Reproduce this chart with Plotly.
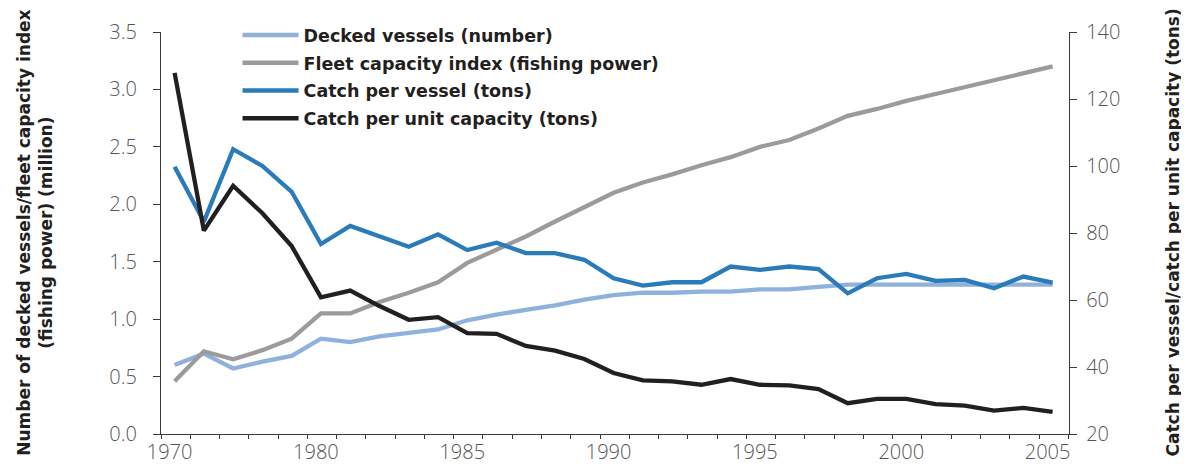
import plotly.graph_objects as go

years = list(range(1975, 2006))
tick_years = [1975, 1980, 1985, 1990, 1995, 2000, 2005]
tick_labels = ["1970", "1980", "1985", "1990", "1995", "2000", "2005"]

decked_vessels = [0.60, 0.70, 0.57, 0.63, 0.68, 0.83, 0.80, 0.85, 0.88, 0.91,
                  0.99, 1.04, 1.08, 1.12, 1.17, 1.21, 1.23, 1.23, 1.24, 1.24,
                  1.26, 1.26, 1.28, 1.30, 1.30, 1.30, 1.30, 1.30, 1.30, 1.30, 1.30]
fleet_capacity = [0.46, 0.72, 0.65, 0.73, 0.83, 1.05, 1.05, 1.15, 1.23, 1.32,
                  1.49, 1.60, 1.72, 1.85, 1.97, 2.10, 2.19, 2.26, 2.34, 2.41,
                  2.50, 2.56, 2.66, 2.77, 2.83, 2.90, 2.96, 3.02, 3.08, 3.14, 3.20]
catch_per_vessel = [99.8, 83.4, 105.0, 100.0, 92.3, 76.7, 82.1, 78.9, 75.9, 79.6,
                    74.9, 77.1, 74.0, 74.0, 72.0, 66.5, 64.3, 65.3, 65.3, 70.0,
                    69.0, 70.0, 69.2, 62.0, 66.5, 67.8, 65.7, 66.0, 63.5, 67.0, 65.2]
catch_per_capacity = [127.8, 80.7, 94.1, 85.9, 76.1, 60.8, 62.8, 58.2, 54.1, 54.9,
                      50.1, 49.9, 46.3, 44.9, 42.4, 38.2, 36.0, 35.7, 34.7, 36.4,
                      34.7, 34.5, 33.4, 29.2, 30.5, 30.5, 28.9, 28.5, 27.0, 27.8, 26.6]

series_names = ["Decked vessels (number)", "Fleet capacity index (fishing power)",
                "Catch per vessel (tons)", "Catch per unit capacity (tons)"]
colors = ["#8fb1dc", "#9b9b9d", "#2a7bb9", "#231f20"]
series_values = [decked_vessels, fleet_capacity, catch_per_vessel, catch_per_capacity]
series_axes = ["y", "y", "y2", "y2"]

fig = go.Figure()
for i in range(4):
    fig.add_trace(go.Scatter(x=years, y=series_values[i], name=series_names[i], mode="lines",
                             line=dict(color=colors[i], width=4.3), yaxis=series_axes[i],
                             legendgroup=f"g{i}"))

tick_font = dict(family="Open Sans", size=20, color="#555555", weight=300)
bold_font = dict(family="DejaVu Sans", size=17, color="#231f20", weight="bold")
legend_font = dict(family="DejaVu Sans", size=17.5, color="#231f20", weight="bold")
axis_col = "#3a3a3a"

# page body has an 8px default margin, so the figure is 8px smaller than the window
fig.update_layout(
    width=1181, height=462,
    margin=dict(l=153, r=120, t=24, b=36, autoexpand=False),
    plot_bgcolor="white", paper_bgcolor="white",
    showlegend=True,
    legend=dict(x=0.0843, y=1.037, xanchor="left", yanchor="top",
                font=legend_font, bgcolor="rgba(0,0,0,0)", tracegroupgap=2,
                itemwidth=56),
    xaxis=dict(range=[1974.535, 2005.56], tickvals=tick_years, ticktext=tick_labels,
               ticks="", showline=True, linecolor=axis_col, linewidth=1.3, automargin=False,
               showgrid=False, zeroline=False, tickfont=tick_font, ticklabelshift=-5,
               minor=dict(tick0=1974.535, dtick=1, ticks="outside", ticklen=4,
                          tickcolor=axis_col, showgrid=False)),
    yaxis=dict(range=[0, 3.5], dtick=0.5, tickformat=".1f", ticks="outside", ticklen=7,
               tickcolor=axis_col, showline=True, linecolor=axis_col, linewidth=1.3,
               showgrid=False, zeroline=False, tickfont=tick_font, automargin=False,
               ticklabelstandoff=12),
    yaxis2=dict(range=[20, 140], dtick=20, overlaying="y", side="right", ticks="outside",
                ticklen=7, tickcolor=axis_col, showline=True, linecolor=axis_col,
                linewidth=1.3, showgrid=False, zeroline=False, tickfont=tick_font,
                automargin=False, ticklabelstandoff=5),
    annotations=[
        dict(text="Number of decked vessels/fleet capacity index<br>(fishing power) (million)",
             xref="paper", yref="paper", x=-0.139, y=0.5, xanchor="center", yanchor="middle",
             textangle=-90, showarrow=False, font=bold_font),
        dict(text="Catch per vessel/catch per unit capacity (tons)",
             xref="paper", yref="paper", x=1.114, y=0.5, xanchor="center", yanchor="middle",
             textangle=-90, showarrow=False, font=bold_font),
    ],
)

fig.write_html("out.html")
